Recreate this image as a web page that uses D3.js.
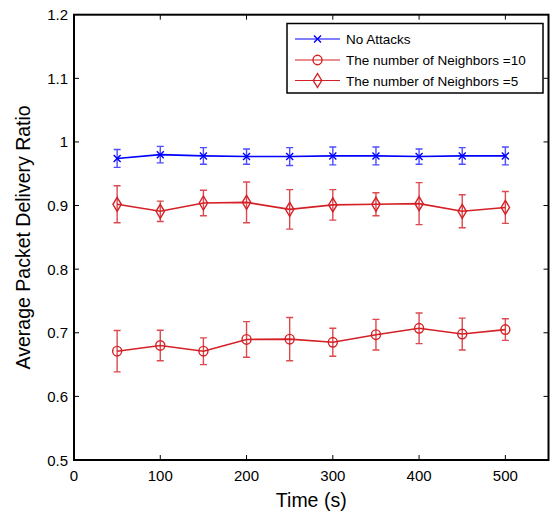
<!DOCTYPE html>
<html><head><meta charset="utf-8">
<script src="https://cdn.jsdelivr.net/npm/d3@7"></script>
<style>body{margin:0;background:#fff}svg{display:block;font-family:"Liberation Sans",Arial,sans-serif}</style>
</head><body><svg id="c" width="552" height="512"></svg>
<script>
const times = [50,100,150,200,250,300,350,400,450,500];
const noAttack = [0.974,0.980,0.978,0.977,0.977,0.978,0.978,0.977,0.978,0.978];
const noAttackErr = [0.014,0.013,0.013,0.012,0.014,0.014,0.014,0.012,0.013,0.014];
const n10 = [0.671,0.680,0.671,0.6895,0.690,0.685,0.697,0.707,0.698,0.705];
const n10Err = [0.0325,0.024,0.021,0.028,0.034,0.022,0.024,0.024,0.025,0.017];
const n5 = [0.902,0.891,0.904,0.905,0.894,0.901,0.902,0.903,0.891,0.897];
const n5Err = [0.029,0.016,0.020,0.032,0.031,0.024,0.018,0.033,0.026,0.025];
const xTicks = [0,100,200,300,400,500];
const yTicks = [0.5,0.6,0.7,0.8,0.9,1.0,1.1,1.2];
const legendLabels = ["No Attacks","The number of Neighbors =10","The number of Neighbors =5"];

const svg = d3.select("#c");
const L=74,R=548.5,T=14.7,B=460;
const x = d3.scaleLinear().domain([0,550]).range([L,R]);
const y = d3.scaleLinear().domain([0.5,1.2]).range([B,T]);

const series = [
  {vals:noAttack, err:noAttackErr, color:"#0000ff", ecol:"#4d4dff", marker:"x"},
  {vals:n10, err:n10Err, color:"#d42026", ecol:"#dc4a4f", marker:"o"},
  {vals:n5, err:n5Err, color:"#d42026", ecol:"#dc4a4f", marker:"d"}
];

function drawMarker(g, m, cx, cy, color){
  if(m==="x"){
    const s=3.5;
    g.append("path").attr("d",`M${cx-s},${cy-s}L${cx+s},${cy+s}M${cx-s},${cy+s}L${cx+s},${cy-s}`)
     .attr("stroke",color).attr("stroke-width",1.4).attr("fill","none");
  } else if(m==="o"){
    g.append("ellipse").attr("cx",cx).attr("cy",cy).attr("rx",4.5).attr("ry",4.8)
     .attr("stroke",color).attr("stroke-width",1.4).attr("fill","none");
  } else {
    g.append("path").attr("d",`M${cx},${cy-7}L${cx+4.2},${cy}L${cx},${cy+7}L${cx-4.2},${cy}Z`)
     .attr("stroke",color).attr("stroke-width",1.4).attr("fill","none");
  }
}

const line = d3.line().x(d=>x(d[0])).y(d=>y(d[1]));
series.forEach(s=>{
  const g = svg.append("g");
  const pts = times.map((t,i)=>[t,s.vals[i]]);
  pts.forEach((p,i)=>{
    const cx=x(p[0]), y1=y(p[1]+s.err[i]), y2=y(p[1]-s.err[i]);
    g.append("path").attr("d",`M${cx},${y1}L${cx},${y2}M${cx-3.5},${y1}L${cx+3.5},${y1}M${cx-3.5},${y2}L${cx+3.5},${y2}`)
     .attr("stroke",s.ecol).attr("stroke-width",1.4).attr("fill","none");
  });
  g.append("path").datum(pts).attr("d",line).attr("stroke",s.color).attr("stroke-width",1.6).attr("fill","none");
  pts.forEach(p=>drawMarker(g,s.marker,x(p[0]),y(p[1]),s.color));
});

const ax = svg.append("g");
ax.append("rect").attr("x",L).attr("y",T).attr("width",R-L).attr("height",B-T)
  .attr("fill","none").attr("stroke","#000").attr("stroke-width",2);
xTicks.forEach(t=>{
  if(t===0) return;
  ax.append("line").attr("x1",x(t)).attr("x2",x(t)).attr("y1",B).attr("y2",B-5).attr("stroke","#000").attr("stroke-width",1);
  ax.append("line").attr("x1",x(t)).attr("x2",x(t)).attr("y1",T).attr("y2",T+5).attr("stroke","#000").attr("stroke-width",1);
});
xTicks.forEach(t=>{
  ax.append("text").attr("x",x(t)).attr("y",B+21).attr("text-anchor","middle").attr("font-size",15).text(t);
});
yTicks.forEach(t=>{
  if(t!==0.5 && t!==1.2){
    ax.append("line").attr("x1",L).attr("x2",L+5).attr("y1",y(t)).attr("y2",y(t)).attr("stroke","#000").attr("stroke-width",1);
    ax.append("line").attr("x1",R).attr("x2",R-5).attr("y1",y(t)).attr("y2",y(t)).attr("stroke","#000").attr("stroke-width",1);
  }
  ax.append("text").attr("x",L-6).attr("y",y(t)+5.5).attr("text-anchor","end").attr("font-size",15).text(d3.format("")(t));
});
ax.append("text").attr("x",(L+R)/2).attr("y",507).attr("text-anchor","middle").attr("font-size",19.5).text("Time (s)");
ax.append("text").attr("transform",`translate(30,${(T+B)/2}) rotate(-90)`).attr("text-anchor","middle").attr("font-size",19.5).text("Average Packet Delivery Ratio");

const lg = svg.append("g");
lg.append("rect").attr("x",287).attr("y",23.5).attr("width",256).attr("height",69.5).attr("fill","#fff").attr("stroke","#000").attr("stroke-width",1.5);
const ly=[39,60,80.5];
series.forEach((s,i)=>{
  lg.append("line").attr("x1",295).attr("x2",340).attr("y1",ly[i]).attr("y2",ly[i]).attr("stroke",s.color).attr("stroke-width",1.2);
  drawMarker(lg,s.marker,317.5,ly[i],s.color);
  lg.append("text").attr("x",346).attr("y",ly[i]+5).attr("font-size",13.5).text(legendLabels[i]);
});
</script></body></html>
